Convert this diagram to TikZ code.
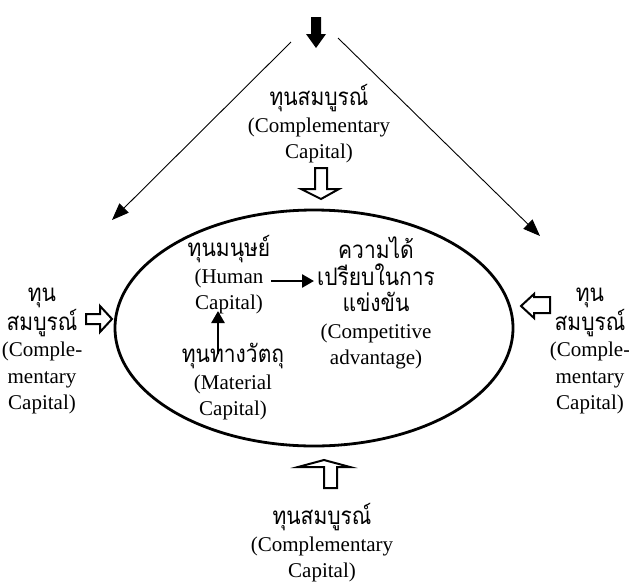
\documentclass[tikz,border=0pt]{standalone}
\usepackage{graphicx}
\usepackage{fontspec}
\setmainfont{Liberation Serif}
\newfontfamily\thaifont[Script=Thai]{Loma}
% Thai words set a little taller, like a narrow Thai face
\newcommand\thai[1]{\scalebox{1}[1.15]{\thaifont #1}}
\usetikzlibrary{arrows.meta}
\tikzset{
  txt/.style={align=center, inner sep=0pt, font=\fontsize{21}{26.5}\selectfont},
  thin/.style={line width=0.9pt, -{Triangle[length=17pt,width=13pt]}},
  bold/.style={line width=2.6pt, -{Triangle[length=12pt,width=13pt]}},
  hollow/.style={draw, line width=2pt, fill=white, line join=miter},
  solid/.style={fill=black},
  ring/.style={draw, line width=2.8pt}
}
\begin{document}
\begin{tikzpicture}[x=1pt,y=-1pt]
\useasboundingbox (0,0) rectangle (629,582);

% central ellipse
\draw[ring] (314,328) ellipse [x radius=199, y radius=118];

% filled arrow at the top
\fill[solid] (311,17) -- (321,17) -- (321,34) -- (326,34) -- (316,48) -- (306,34) -- (311,34) -- cycle;

% thin arrows from the top towards the sides
\coordinate (topL) at (291,42);
\coordinate (topR) at (338,38);
\coordinate (endL) at (112,220);
\coordinate (endR) at (540,236);
\draw[thin] (topL) -- (endL);
\draw[thin] (topR) -- (endR);

% complementary capital labels
\node[txt] (ctop) at (319,124) {\thai{ทุนสมบูรณ์}\\(Complementary\\Capital)};
\node[txt] (cbot) at (322,543) {\thai{ทุนสมบูรณ์}\\(Complementary\\Capital)};
\node[txt] (cleft) at (42,351) {\thai{ทุน}\\\thai{สมบูรณ์}\\(Comple-\\mentary\\Capital)};
\node[txt] (cright) at (590,351) {\thai{ทุน}\\\thai{สมบูรณ์}\\(Comple-\\mentary\\Capital)};

% hollow block arrows pointing into the ellipse
\draw[hollow] (315,168) -- (327,168) -- (327,189) -- (339,189) -- (321,199) -- (301,189) -- (315,189) -- cycle;
\draw[hollow] (324,488) -- (337,488) -- (337,467) -- (350,467) -- (324,460) -- (298,467) -- (324,467) -- cycle;
\draw[hollow] (86,314) -- (100,314) -- (100,306) -- (112,319) -- (100,332) -- (100,324) -- (86,324) -- cycle;
\draw[hollow] (550,297) -- (534,297) -- (534,294) -- (521,306) -- (534,318) -- (534,313) -- (550,313) -- cycle;

% contents of the ellipse
\node[txt] (human) at (229,275) {\thai{ทุนมนุษย์}\\(Human\\Capital)};
\node[txt] (adv) at (376,303) {\thai{ความได้}\\\thai{เปรียบในการ}\\\thai{แข่งขัน}\\(Competitive\\advantage)};
\node[txt] (mat) at (233,382) {\thai{ทุนทางวัตถุ}\\(Material\\Capital)};

\coordinate (hR) at (271,281);
\coordinate (aL) at (314,281);
\draw[bold] (hR) -- (aL);
\coordinate (mT) at (218,354);
\coordinate (hB) at (218,311);
\draw[bold] (mT) -- (hB);
\end{tikzpicture}
\end{document}
